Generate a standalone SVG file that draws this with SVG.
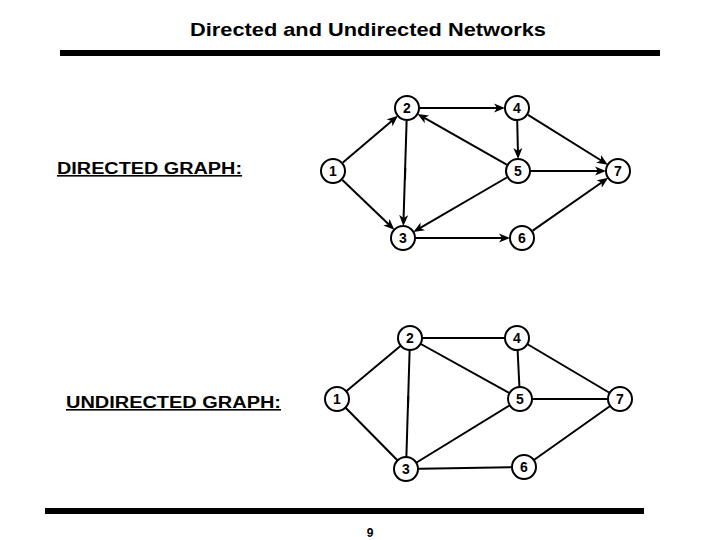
<svg xmlns="http://www.w3.org/2000/svg" width="720" height="540" viewBox="0 0 720 540">
<style>
.t{font-family:"Liberation Sans",Arial,sans-serif;font-weight:bold;fill:#000}
.n circle{fill:#fff;stroke:#000;stroke-width:2}
.n text{font-family:"Liberation Sans",Arial,sans-serif;font-weight:bold;font-size:14px;text-anchor:middle;fill:#000}
.e line{stroke:#000;stroke-width:2}
</style>
<defs>
<marker id="ah" markerUnits="userSpaceOnUse" markerWidth="12" markerHeight="10" refX="6" refY="4.5" orient="auto" viewBox="0 0 12 9">
<path d="M0,0 L11,4.5 L0,9 L3,4.5 Z" fill="#000"/>
</marker>
</defs>
<rect width="720" height="540" fill="#fff"/>
<text class="t" x="190" y="36" font-size="19" textLength="356" lengthAdjust="spacingAndGlyphs">Directed and Undirected Networks</text>
<rect x="60" y="50" width="600" height="6" fill="#000"/>
<rect x="45" y="508" width="599" height="6" fill="#000"/>
<text class="t" x="370" y="537" font-size="12" text-anchor="middle">9</text>
<text class="t" x="57" y="174" font-size="16" textLength="185" lengthAdjust="spacingAndGlyphs" text-decoration="underline">DIRECTED GRAPH:</text>
<text class="t" x="66" y="408" font-size="16" textLength="215" lengthAdjust="spacingAndGlyphs" text-decoration="underline">UNDIRECTED GRAPH:</text>

<g id="directed-edges" class="e">
<line x1="342.9" y1="162.6" x2="394.1" y2="119" marker-end="url(#ah)"/>
<line x1="342.4" y1="180" x2="390.7" y2="226.3" marker-end="url(#ah)"/>
<line x1="420" y1="108" x2="500" y2="108" marker-end="url(#ah)"/>
<line x1="406.6" y1="121" x2="403.5" y2="221" marker-end="url(#ah)"/>
<line x1="405.3" y1="168" x2="405" y2="180" stroke-width="3"/>
<line x1="506.7" y1="164.6" x2="421.8" y2="116.4" marker-end="url(#ah)"/>
<line x1="517.2" y1="121" x2="518" y2="154" marker-end="url(#ah)"/>
<line x1="528" y1="114.9" x2="603.6" y2="162" marker-end="url(#ah)"/>
<line x1="531" y1="171" x2="601" y2="171" marker-end="url(#ah)"/>
<line x1="506.8" y1="177.5" x2="417.7" y2="229.4" marker-end="url(#ah)"/>
<line x1="416" y1="238" x2="505" y2="238" marker-end="url(#ah)"/>
<line x1="532.7" y1="230.6" x2="604.1" y2="180.7" marker-end="url(#ah)"/>
</g>

<g id="undirected-edges" class="e">
<line x1="337" y1="399" x2="410" y2="338"/>
<line x1="337" y1="399" x2="406" y2="469"/>
<line x1="410" y1="338" x2="517" y2="338"/>
<line x1="410" y1="338" x2="520" y2="399"/>
<line x1="410" y1="338" x2="406" y2="469"/>
<line x1="408.3" y1="396" x2="408" y2="408" stroke-width="3"/>
<line x1="517" y1="338" x2="520" y2="399"/>
<line x1="517" y1="338" x2="620" y2="399"/>
<line x1="520" y1="399" x2="620" y2="399"/>
<line x1="520" y1="399" x2="406" y2="469"/>
<line x1="406" y1="469" x2="524" y2="467"/>
<line x1="524" y1="467" x2="620" y2="399"/>
</g>

<g id="d1" class="n"><circle cx="333" cy="171" r="12"/><text x="333" y="176">1</text></g>
<g id="d2" class="n"><circle cx="407" cy="108" r="12"/><text x="407" y="113">2</text></g>
<g id="d3" class="n"><circle cx="403" cy="238" r="12"/><text x="403" y="243">3</text></g>
<g id="d4" class="n"><circle cx="517" cy="108" r="12"/><text x="517" y="113">4</text></g>
<g id="d5" class="n"><circle cx="518" cy="171" r="12"/><text x="518" y="176">5</text></g>
<g id="d6" class="n"><circle cx="522" cy="238" r="12"/><text x="522" y="243">6</text></g>
<g id="d7" class="n"><circle cx="618" cy="171" r="12"/><text x="618" y="176">7</text></g>

<g id="u1" class="n"><circle cx="337" cy="399" r="12"/><text x="337" y="404">1</text></g>
<g id="u2" class="n"><circle cx="410" cy="338" r="12"/><text x="410" y="343">2</text></g>
<g id="u3" class="n"><circle cx="406" cy="469" r="12"/><text x="406" y="474">3</text></g>
<g id="u4" class="n"><circle cx="517" cy="338" r="12"/><text x="517" y="343">4</text></g>
<g id="u5" class="n"><circle cx="520" cy="399" r="12"/><text x="520" y="404">5</text></g>
<g id="u6" class="n"><circle cx="524" cy="467" r="12"/><text x="524" y="472">6</text></g>
<g id="u7" class="n"><circle cx="620" cy="399" r="12"/><text x="620" y="404">7</text></g>
</svg>
